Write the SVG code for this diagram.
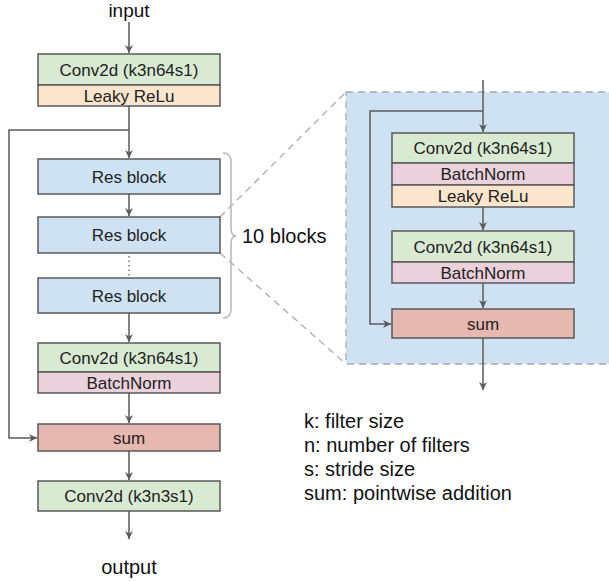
<svg xmlns="http://www.w3.org/2000/svg" width="609" height="581" viewBox="0 0 609 581">
<defs>
<marker id="ah" viewBox="0 0 10 10" refX="10" refY="5" markerWidth="8" markerHeight="8" markerUnits="userSpaceOnUse" orient="auto">
<path d="M0,0 L10,5 L0,10 L3,5 z" fill="#595959"/>
</marker>
<style>
.b{stroke:#595959;stroke-width:1.5}
.g{fill:#d9ead3}.o{fill:#fce5cd}.bl{fill:#cfe2f3}.p{fill:#ead1dc}.s{fill:#e6b8af}
.t{font-family:"Liberation Sans",Arial,sans-serif;font-size:17px;fill:#222;text-anchor:middle}
.L{font-family:"Liberation Sans",Arial,sans-serif;font-size:20px;fill:#111}
.c{fill:none;stroke:#595959;stroke-width:1.5}
.d{fill:none;stroke:#aaaaaa;stroke-width:1.3;stroke-dasharray:7,5}
</style>
</defs>
<rect x="346" y="92" width="270" height="272" fill="#cfe2f3" stroke="#aaaaaa" stroke-width="1.3" stroke-dasharray="7,5"/>
<g id="connectors">
<path class="c" d="M129,22 V53" marker-end="url(#ah)"/>
<path class="c" d="M129,106 V158" marker-end="url(#ah)"/>
<path class="c" d="M129,130 H9 V438 H37" marker-end="url(#ah)"/>
<path class="c" d="M129,194 V216" marker-end="url(#ah)"/>
<path fill="none" stroke="#777" stroke-width="1.5" stroke-dasharray="1.5,3" d="M129,256 V276"/>
<path class="c" d="M129,313 V342" marker-end="url(#ah)"/>
<path class="c" d="M129,393 V423" marker-end="url(#ah)"/>
<path class="c" d="M129,451 V480" marker-end="url(#ah)"/>
<path class="c" d="M129,511 V539" marker-end="url(#ah)"/>
<path class="d" d="M220,217 L346,92"/>
<path class="d" d="M220,253 L346,364"/>
<path class="c" d="M483,80 V132" marker-end="url(#ah)"/>
<path class="c" d="M483,111 H370 V324 H391" marker-end="url(#ah)"/>
<path class="c" d="M483,207 V230" marker-end="url(#ah)"/>
<path class="c" d="M483,283 V308" marker-end="url(#ah)"/>
<path class="c" d="M483,338 V390" marker-end="url(#ah)"/>
</g>
<path id="brace" d="M223,153 Q231,153 231,162 V228 Q231,236 236,236 Q231,236 231,244 V309 Q231,318 223,318" fill="none" stroke="#b7b7b7" stroke-width="1.5"/>
<text class="L" x="129" y="17" text-anchor="middle" style="font-size:19px">input</text>
<text class="L" x="129" y="574" text-anchor="middle">output</text>
<text class="L" x="242" y="243">10 blocks</text>
<g id="conv1">
<rect class="b g" x="38" y="54" width="182" height="31"/>
<text class="t" x="129" y="75.5">Conv2d (k3n64s1)</text>
<rect class="b o" x="38" y="85" width="182" height="21"/>
<text class="t" x="129" y="101.5">Leaky ReLu</text>
</g>
<g id="res1"><rect class="b bl" x="38" y="159" width="182" height="35"/><text class="t" x="129" y="182.5">Res block</text></g>
<g id="res2"><rect class="b bl" x="38" y="217" width="182" height="36"/><text class="t" x="129" y="241">Res block</text></g>
<g id="res3"><rect class="b bl" x="38" y="278" width="182" height="35"/><text class="t" x="129" y="301.5">Res block</text></g>
<g id="conv2">
<rect class="b g" x="38" y="343" width="182" height="29"/>
<text class="t" x="129" y="363.5">Conv2d (k3n64s1)</text>
<rect class="b p" x="38" y="372" width="182" height="21"/>
<text class="t" x="129" y="388.5">BatchNorm</text>
</g>
<g id="sum1"><rect class="b s" x="38" y="424" width="182" height="27"/><text class="t" x="129" y="443.5">sum</text></g>
<g id="conv3"><rect class="b g" x="38" y="481" width="182" height="30"/><text class="t" x="129" y="502">Conv2d (k3n3s1)</text></g>
<g id="rconv1">
<rect class="b g" x="392" y="133" width="182" height="30"/>
<text class="t" x="483" y="154">Conv2d (k3n64s1)</text>
<rect class="b p" x="392" y="163" width="182" height="22"/>
<text class="t" x="483" y="180">BatchNorm</text>
<rect class="b o" x="392" y="185" width="182" height="22"/>
<text class="t" x="483" y="202">Leaky ReLu</text>
</g>
<g id="rconv2">
<rect class="b g" x="392" y="231" width="182" height="31"/>
<text class="t" x="483" y="252.5">Conv2d (k3n64s1)</text>
<rect class="b p" x="392" y="262" width="182" height="21"/>
<text class="t" x="483" y="278.5">BatchNorm</text>
</g>
<g id="rsum"><rect class="b s" x="392" y="309" width="182" height="29"/><text class="t" x="483" y="329.5">sum</text></g>
<g id="legend">
<text class="L" x="304" y="428">k: filter size</text>
<text class="L" x="304" y="452">n: number of filters</text>
<text class="L" x="304" y="476">s: stride size</text>
<text class="L" x="304" y="500">sum: pointwise addition</text>
</g>
</svg>
